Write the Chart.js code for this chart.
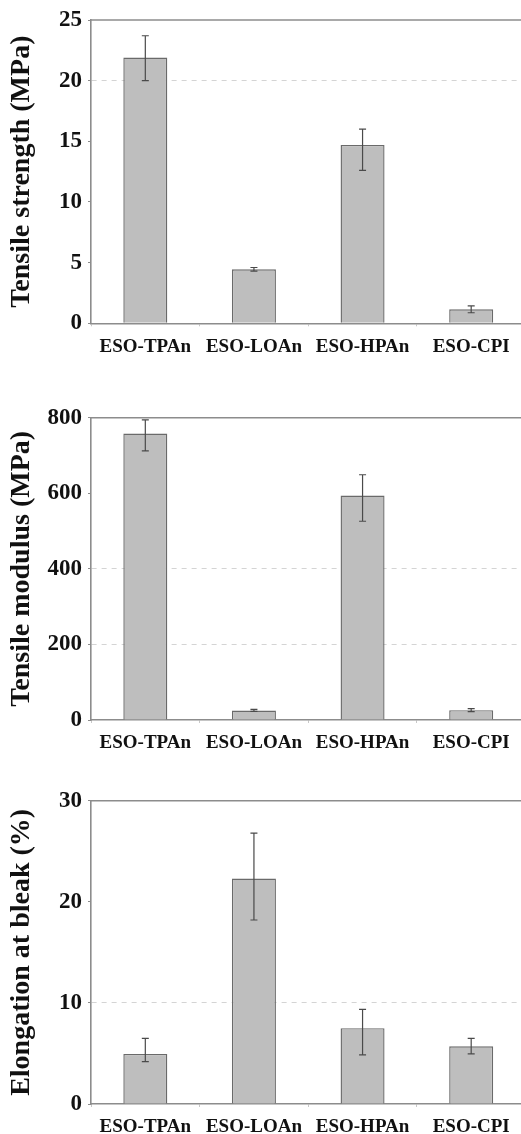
<!DOCTYPE html>
<html>
<head>
<meta charset="utf-8">
<script src="https://cdn.jsdelivr.net/npm/chart.js@4/dist/chart.umd.min.js"></script>
<style>
  html, body { margin: 0; padding: 0; background: #ffffff; }
  #wrap { position: relative; width: 521px; height: 1134px; overflow: hidden; background: #ffffff; }
  canvas { position: absolute; left: 0; }
</style>
</head>
<body>
<div id="wrap">
  <canvas id="c1" width="526" height="384" style="top:0px"></canvas>
  <canvas id="c2" width="526" height="384" style="top:370px"></canvas>
  <canvas id="c3" width="526" height="384" style="top:750px"></canvas>
</div>
<script>
// Sample names shared by all three panels
const categories = ['ESO-TPAn', 'ESO-LOAn', 'ESO-HPAn', 'ESO-CPI'];

// Tensile strength (MPa): mean and error-bar ends
const tensileStrength = [21.9, 4.45, 14.7, 1.15];
const strengthLow  = [20.0, 4.3, 12.6, 0.87];
const strengthHigh = [23.7, 4.6, 16.0, 1.43];
const strengthTicks = [0, 5, 10, 15, 20, 25];

// Tensile modulus (MPa)
const tensileModulus = [758, 25, 594, 26];
const modulusLow  = [712, 23, 526, 22];
const modulusHigh = [794, 28, 649, 30];
const modulusTicks = [0, 200, 400, 600, 800];

// Elongation at break (%)
const elongation = [4.95, 22.3, 7.5, 5.7];
const elongationLow  = [4.2, 18.2, 4.85, 4.95];
const elongationHigh = [6.5, 26.8, 9.35, 6.5];
const elongationTicks = [0, 10, 20, 30];

const SERIF = '"Liberation Serif", "Times New Roman", "DejaVu Serif", serif';
const AXIS_GREY = '#8c8c8c';

// Draws whiskers from the low/high arrays attached to the dataset
const errorBars = {
  id: 'errorBars',
  afterDatasetsDraw(chart) {
    const ds = chart.data.datasets[0];
    const meta = chart.getDatasetMeta(0);
    const y = chart.scales.y;
    const ctx = chart.ctx;
    ctx.save();
    ctx.strokeStyle = '#4a4a4a';
    ctx.lineWidth = 1.2;
    meta.data.forEach((bar, i) => {
      const yl = y.getPixelForValue(ds.errLow[i]);
      const yh = y.getPixelForValue(ds.errHigh[i]);
      const x = bar.x;
      ctx.beginPath();
      ctx.moveTo(x, yl); ctx.lineTo(x, yh);
      ctx.moveTo(x - 3.5, yl); ctx.lineTo(x + 3.5, yl);
      ctx.moveTo(x - 3.5, yh); ctx.lineTo(x + 3.5, yh);
      ctx.stroke();
    });
    ctx.restore();
  }
};

// Top edge of the plot frame
const frameTop = {
  id: 'frameTop',
  afterDraw(chart) {
    const a = chart.chartArea, ctx = chart.ctx;
    ctx.save();
    ctx.strokeStyle = AXIS_GREY;
    ctx.lineWidth = 1.6;
    ctx.beginPath();
    ctx.moveTo(a.left, a.top);
    ctx.lineTo(a.right + 2, a.top);
    ctx.stroke();
    ctx.restore();
  }
};

function makePanel(id, values, low, high, ticks, dashedAt, title, padTop, padBottom) {
  const yMax = ticks[ticks.length - 1];
  const step = ticks[1] - ticks[0];
  return new Chart(document.getElementById(id), {
    type: 'bar',
    data: {
      labels: categories,
      datasets: [{
        data: values,
        errLow: low,
        errHigh: high,
        backgroundColor: '#bebebe',
        borderColor: '#6a6a6a',
        borderWidth: 1.4,
        barPercentage: 0.405,
        categoryPercentage: 1.0
      }]
    },
    options: {
      responsive: false,
      animation: false,
      devicePixelRatio: 1,
      layout: { padding: { left: 0, right: 0.5, top: padTop, bottom: padBottom } },
      plugins: { legend: { display: false }, tooltip: { enabled: false } },
      scales: {
        x: {
          afterFit(scale) { scale.height = 30; },
          grid: {
            offset: true,
            drawOnChartArea: false,
            drawTicks: true,
            tickLength: 3,
            color: '#c8c8c8'
          },
          border: { display: true, color: AXIS_GREY, width: 1.6 },
          ticks: {
            color: '#111111',
            padding: 9,
            maxRotation: 0,
            autoSkip: false,
            font: { family: SERIF, size: 19, weight: 'bold' }
          }
        },
        y: {
          min: 0,
          max: yMax,
          afterFit(scale) { scale.width = 91; },
          afterBuildTicks(scale) { scale.ticks = ticks.map(v => ({ value: v })); },
          grid: {
            drawTicks: true,
            tickLength: 3,
            lineWidth: 1,
            color: (c) => (c.tick && dashedAt.includes(c.tick.value)) ? '#d4d4d4' : 'rgba(0,0,0,0)',
            tickColor: AXIS_GREY
          },
          border: { display: true, color: AXIS_GREY, width: 1.6, dash: [5, 5] },
          ticks: {
            stepSize: step,
            color: '#111111',
            padding: 6,
            font: { family: SERIF, size: 23, weight: 'bold' }
          },
          title: {
            display: true,
            text: title,
            color: '#111111',
            padding: { top: 5, bottom: 0 },
            font: { family: SERIF, size: 28, weight: 'bold' }
          }
        }
      }
    },
    plugins: [errorBars, frameTop]
  });
}

makePanel('c1', tensileStrength, strengthLow, strengthHigh, strengthTicks, [20],
  'Tensile strength (MPa)', 20, 30.7);
makePanel('c2', tensileModulus, modulusLow, modulusHigh, modulusTicks, [200, 400],
  'Tensile modulus (MPa)', 47.7, 4);
makePanel('c3', elongation, elongationLow, elongationHigh, elongationTicks, [10],
  'Elongation at bleak (%)', 50.7, 0);
</script>
</body>
</html>
